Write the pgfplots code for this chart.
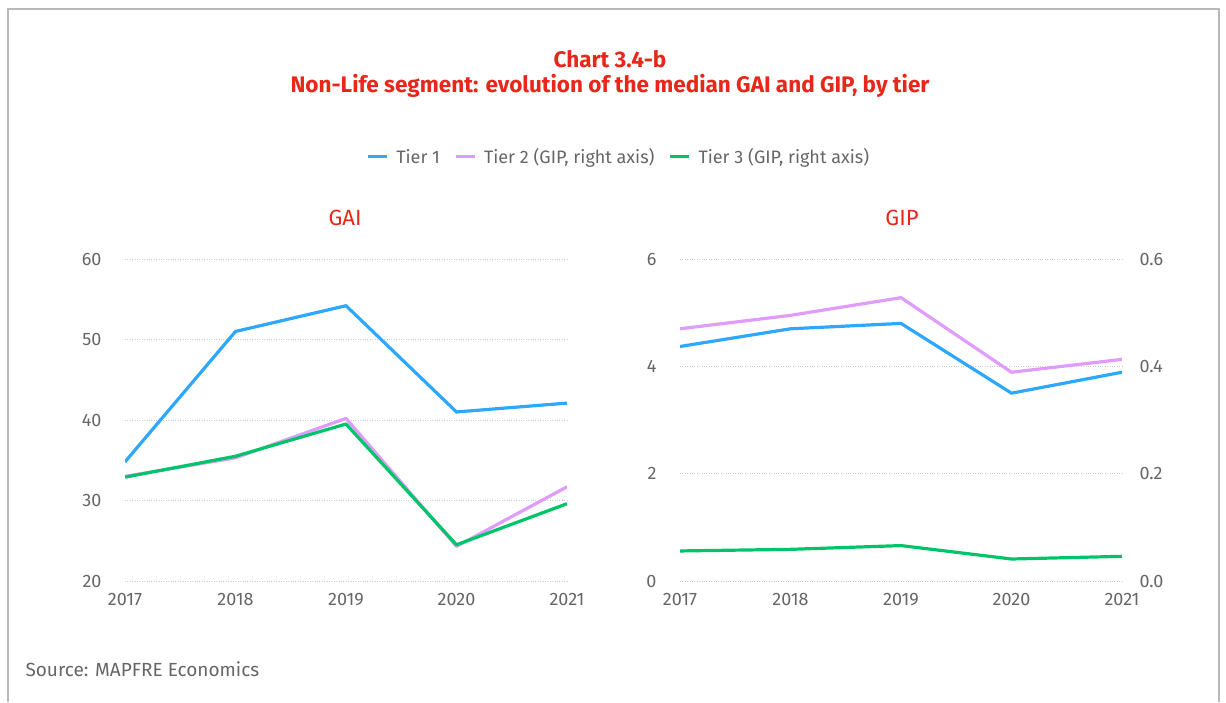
\documentclass[border=0pt]{standalone}
\usepackage{pgfplots}
\pgfplotsset{compat=1.18}
\usepackage{fontspec}
\setmainfont{Fira Sans}
\definecolor{tblue}{HTML}{2EA8FF}
\definecolor{tpurple}{HTML}{DF9CFB}
\definecolor{tgreen}{HTML}{00C46A}
\definecolor{tred}{HTML}{E8261A}
\definecolor{tgray}{HTML}{666666}
\pgfplotsset{
  panel/.style={
    scale only axis, width=442pt, height=322pt,
    anchor=south west,
    xmin=2017, xmax=2021, xtick={2017,2018,2019,2020,2021},
    /pgf/number format/assume math mode=true,
    xticklabel style={/pgf/number format/1000 sep={}, font=\fontsize{18}{20}\selectfont, text=tgray, yshift=-9pt},
    yticklabel style={font=\fontsize{18}{20}\selectfont, text=tgray},
    axis line style={draw=none}, tick style={draw=none},
    ymajorgrids, grid style={dotted, gray!40, line width=0.7pt},
  },
  ser/.style={line width=3.2pt, line join=round},
}
\begin{document}
\begin{tikzpicture}
\path[use as bounding box] (0pt,0pt) rectangle (1226pt,-702pt);
\draw[gray!55, line width=1.2pt] (8pt,-702pt) -- (8pt,-9pt) -- (1219pt,-9pt) -- (1219pt,-702pt);
\node[text=tred, font=\fontsize{22.5}{24}\selectfont\bfseries] at (610pt,-59pt) {Chart 3.4-b};
\node[text=tred, font=\fontsize{22.5}{24}\selectfont\bfseries] at (610pt,-86pt) {Non-Life segment: evolution of the median GAI and GIP, by tier};
\node[text=tred, font=\fontsize{22}{24}\selectfont] at (345pt,-218pt) {GAI};
\node[text=tred, font=\fontsize{22}{24}\selectfont] at (902pt,-218pt) {GIP};
\node[text=tgray, font=\fontsize{19}{21}\selectfont, anchor=west] at (22pt,-669pt) {Source: MAPFRE Economics};

% Left panel: GAI
\begin{axis}[panel, at={(125pt,-581pt)},
  ymin=20, ymax=60, ytick={20,30,40,50,60},
  yticklabel style={anchor=east, xshift=-20pt},
  legend columns=3,
  legend style={at={(1.117,1.317)}, anchor=center, draw=none, fill=none,
    font=\fontsize{18}{20}\selectfont, text=tgray,
    /tikz/every odd column/.append style={column sep=6pt},
    /tikz/every even column/.append style={column sep=12pt}},
  legend image code/.code={\draw[#1, line width=3pt] (0pt,0pt) -- (19pt,0pt);},
]
\addplot[ser, tblue] coordinates {(2017,34.8) (2018,51.0) (2019,54.2) (2020,41.0) (2021,42.1)};
\addlegendentry{Tier 1}
\addplot[ser, tpurple] coordinates {(2017,33.0) (2018,35.3) (2019,40.2) (2020,24.3) (2021,31.7)};
\addlegendentry{Tier 2 (GIP, right axis)}
\addplot[ser, tgreen] coordinates {(2017,32.9) (2018,35.5) (2019,39.5) (2020,24.5) (2021,29.6)};
\addlegendentry{Tier 3 (GIP, right axis)}
\end{axis}

% Right panel: GIP, left axis (Tier 1)
\begin{axis}[panel, at={(680pt,-581pt)},
  ymin=0, ymax=6, ytick={0,2,4,6},
  yticklabel style={anchor=east, xshift=-20pt},
]
\addplot[ser, tblue] coordinates {(2017,4.37) (2018,4.70) (2019,4.80) (2020,3.50) (2021,3.89)};
\end{axis}

% Right panel: GIP, right axis (Tier 2, Tier 3)
\begin{axis}[panel, at={(680pt,-581pt)},
  ymin=0, ymax=0.6, ytick={0,0.2,0.4,0.6},
  ymajorgrids=false,
  axis y line*=right, axis x line=none,
  yticklabel style={anchor=west, xshift=14pt, /pgf/number format/fixed, /pgf/number format/fixed zerofill, /pgf/number format/precision=1},
]
\addplot[ser, tpurple] coordinates {(2017,0.470) (2018,0.495) (2019,0.528) (2020,0.389) (2021,0.413)};
\addplot[ser, tgreen] coordinates {(2017,0.056) (2018,0.059) (2019,0.066) (2020,0.041) (2021,0.046)};
\end{axis}
\end{tikzpicture}
\end{document}
